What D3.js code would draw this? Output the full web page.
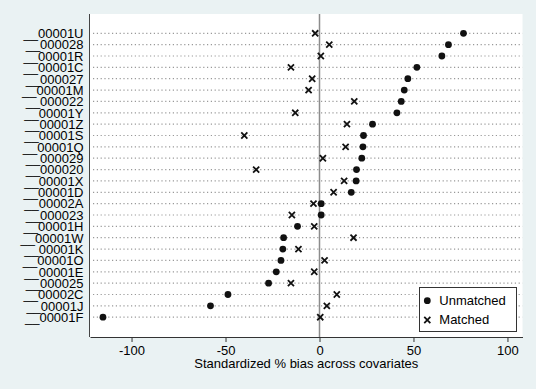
<!DOCTYPE html>
<html>
<head>
<meta charset="utf-8">
<script src="https://d3js.org/d3.v7.min.js"></script>
<style>
  body { margin: 0; background: #eaf2f3; }
  svg { display: block; font-family: "Liberation Sans", Arial, sans-serif; }
</style>
</head>
<body>
<div id="chart"></div>
<script>
// covariates, top to bottom
const covariates = ["__00001U", "__000028", "__00001R", "__00001C", "__000027", "__00001M",
    "__000022", "__00001Y", "__00001Z", "__00001S", "__00001Q", "__000029", "__000020",
    "__00001X", "__00001D", "__00002A", "__000023", "__00001H", "__00001W", "__00001K",
    "__00001O", "__00001E", "__000025", "__00002C", "__00001J", "__00001F"];
const unmatched = [76.6, 68.6, 65.1, 51.8, 47.0, 45.1, 43.5, 41.2, 28.2, 23.4, 23.1, 22.5, 19.7,
    19.5, 16.9, 0.9, 0.9, -11.7, -19.1, -19.5, -20.5, -23.0, -27.1, -48.7, -58.0, -115.2];
const matched = [-2.3, 5.2, 0.7, -15.2, -3.9, -5.8, 18.5, -12.9, 14.6, -40.0, 13.9, 1.8, -33.7,
    13.1, 7.5, -3.2, -14.7, -2.8, 18.1, -11.2, 2.7, -2.8, -15.2, 9.2, 3.9, 0.4];
const xTicks = [-100, -50, 0, 50, 100];
const legendLabels = ["Unmatched", "Matched"];

(function () {
    let width = 536, height = 389;
    let pLeft = 90, pRight = 522.5, pTop = 14, pBottom = 337;

    let svg = d3.select("#chart")
        .append("svg")
        .attr("width", width)
        .attr("height", height);

    svg.append("rect")
        .attr("width", width)
        .attr("height", height)
        .attr("fill", "#eaf2f3");

    svg.append("rect")
        .attr("x", pLeft)
        .attr("y", pTop)
        .attr("width", pRight - pLeft)
        .attr("height", pBottom - pTop)
        .attr("fill", "white");

    let x = d3.scaleLinear()
        .domain([-122.1, 108])
        .range([pLeft, pRight]);
    let y = d3.scalePoint()
        .domain(covariates)
        .range([33.3, 317.2]);

    // dotted row lines
    svg.selectAll(".grid")
        .data(covariates)
        .enter()
        .append("line")
        .attr("x1", pLeft + 3)
        .attr("x2", pRight)
        .attr("y1", d => y(d))
        .attr("y2", d => y(d))
        .attr("stroke", "#999")
        .attr("stroke-width", 1.2)
        .attr("stroke-dasharray", "1.2,2.6");

    // zero line
    svg.append("line")
        .attr("x1", x(0))
        .attr("x2", x(0))
        .attr("y1", pTop)
        .attr("y2", pBottom)
        .attr("stroke", "#8c8c8c")
        .attr("stroke-width", 1.5);

    // axes
    svg.append("g")
        .attr("transform", `translate(0,${pBottom})`)
        .call(d3.axisBottom(x).tickValues(xTicks).tickSize(5).tickPadding(4).tickSizeOuter(0))
        .call(g => g.select(".domain").attr("stroke", "#333"))
        .call(g => g.selectAll(".tick line").attr("stroke", "#333"))
        .call(g => g.selectAll(".tick text")
            .attr("font-size", "13px")
            .attr("font-family", "Liberation Sans, Arial, sans-serif")
            .attr("fill", "#000")
            .text(d => d < 0 ? "-" + Math.abs(d) : d));

    svg.append("line")
        .attr("x1", pLeft - 0.5)
        .attr("x2", pLeft - 0.5)
        .attr("y1", pTop)
        .attr("y2", pBottom)
        .attr("stroke", "#444");

    svg.selectAll(".ylab")
        .data(covariates)
        .enter()
        .append("text")
        .attr("x", 83.5)
        .attr("y", d => y(d) + 4.8)
        .attr("text-anchor", "end")
        .attr("font-size", "13px")
        .text(d => d);

    svg.append("text")
        .attr("x", (pLeft + pRight) / 2)
        .attr("y", 368)
        .attr("text-anchor", "middle")
        .attr("font-size", "13px")
        .text("Standardized % bias across covariates");

    // markers
    svg.selectAll(".dot")
        .data(unmatched)
        .enter()
        .append("circle")
        .attr("cx", d => x(d))
        .attr("cy", (_, i) => y(covariates[i]))
        .attr("r", 3.4)
        .attr("fill", "#111");

    let cross = d3.symbol().type(d3.symbolX).size(26);
    svg.selectAll(".cross")
        .data(matched)
        .enter()
        .append("path")
        .attr("d", cross)
        .attr("transform", (d, i) => `translate(${x(d)},${y(covariates[i])})`)
        .attr("fill", "none")
        .attr("stroke", "#111")
        .attr("stroke-width", 1.8);

    // legend
    let lg = svg.append("g");
    lg.append("rect")
        .attr("x", 419.5)
        .attr("y", 287.5)
        .attr("width", 97)
        .attr("height", 44)
        .attr("fill", "white")
        .attr("stroke", "#333");
    lg.append("circle")
        .attr("cx", 427.3)
        .attr("cy", 300.7)
        .attr("r", 3.4)
        .attr("fill", "#111");
    lg.append("path")
        .attr("d", cross)
        .attr("transform", "translate(427.3,320)")
        .attr("fill", "none")
        .attr("stroke", "#111")
        .attr("stroke-width", 1.8);
    lg.selectAll(".ltext")
        .data(legendLabels)
        .enter()
        .append("text")
        .attr("x", 439.3)
        .attr("y", (_, i) => 305 + i * 19.3)
        .attr("font-size", "13px")
        .text(d => d);
})();
</script>
</body>
</html>
